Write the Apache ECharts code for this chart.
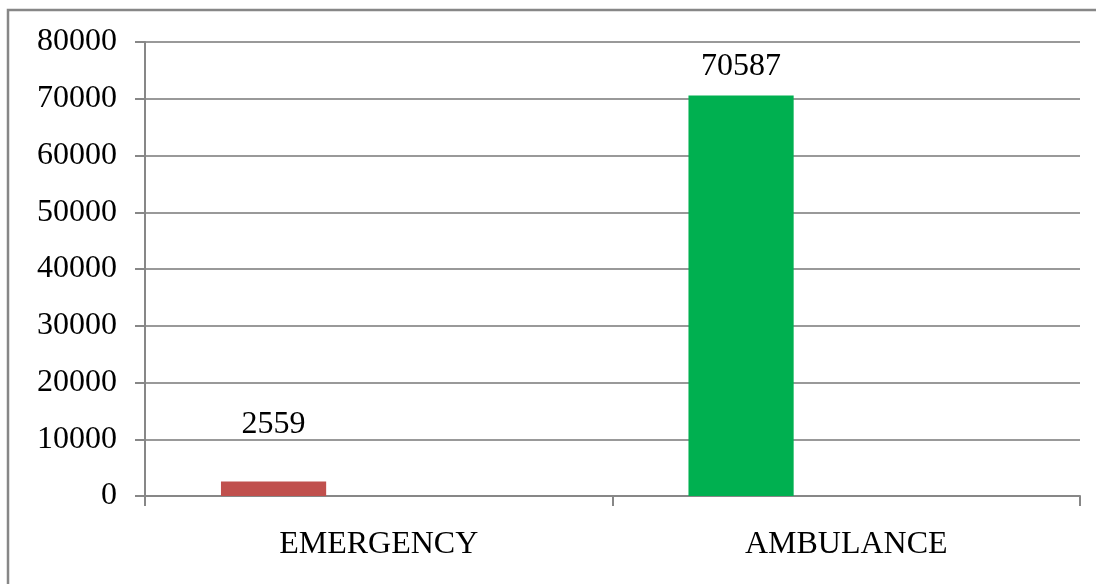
<!DOCTYPE html>
<html>
<head>
<meta charset="utf-8">
<script src="https://cdn.jsdelivr.net/npm/echarts@6/dist/echarts.min.js"></script>
<style>
    html, body {margin: 0; padding: 0; background: #fff; overflow: hidden;}
    #main {width: 1096px; height: 584px;}
</style>
</head>
<body>
<div id="main"></div>
<script>
var categories = ['EMERGENCY', 'AMBULANCE'];
var values = [2559, 70587];
var yTicks = [0, 10000, 20000, 30000, 40000, 50000, 60000, 70000, 80000];

// bar colours and the extra lift of each value label (label styling, not data)
var barColors = ['#C0504D', '#00B050'];
var labelLift = [28, 0];

var font = '"Liberation Serif", "Times New Roman", serif';
var gray = '#878787';

var myChart = echarts.init(document.getElementById('main'));

var mainData = values.map(function (v, i) {
    return {
        value: v,
        itemStyle: {color: barColors[i]},
        label: {offset: [0, -labelLift[i]]}
    };
});
var empty = values.map(function () { return null; });

myChart.setOption({
    animation: false,
    grid: {left: 145, right: 16, top: 42, bottom: 88},
    graphic: [{
        type: 'polyline',
        shape: {points: [[8, 700], [8, 10], [1300, 10]]},
        style: {fill: 'none', stroke: gray, lineWidth: 2.5},
        silent: true
    }],
    xAxis: {
        type: 'category',
        data: categories,
        axisLine: {lineStyle: {color: gray, width: 2}},
        axisTick: {show: true, length: 10, lineStyle: {color: gray, width: 2}},
        axisLabel: {
            color: '#000',
            fontFamily: font,
            fontSize: 32,
            margin: 33
        }
    },
    yAxis: {
        type: 'value',
        min: yTicks[0],
        max: yTicks[yTicks.length - 1],
        interval: yTicks[1] - yTicks[0],
        axisLine: {show: true, lineStyle: {color: gray, width: 2}},
        axisTick: {show: true, length: 10, lineStyle: {color: gray, width: 2}},
        splitLine: {lineStyle: {color: '#999', width: 2}},
        axisLabel: {
            color: '#000',
            fontFamily: font,
            fontSize: 32,
            margin: 28,
            formatter: function (v) { return String(v); }
        }
    },
    series: [{
        type: 'bar',
        data: mainData,
        barGap: '0%',
        barCategoryGap: '32.5%',
        label: {
            show: true,
            position: 'top',
            distance: 13,
            color: '#000',
            fontFamily: font,
            fontSize: 32
        }
    }, {
        type: 'bar',
        data: empty
    }, {
        type: 'bar',
        data: empty
    }]
});
</script>
</body>
</html>
